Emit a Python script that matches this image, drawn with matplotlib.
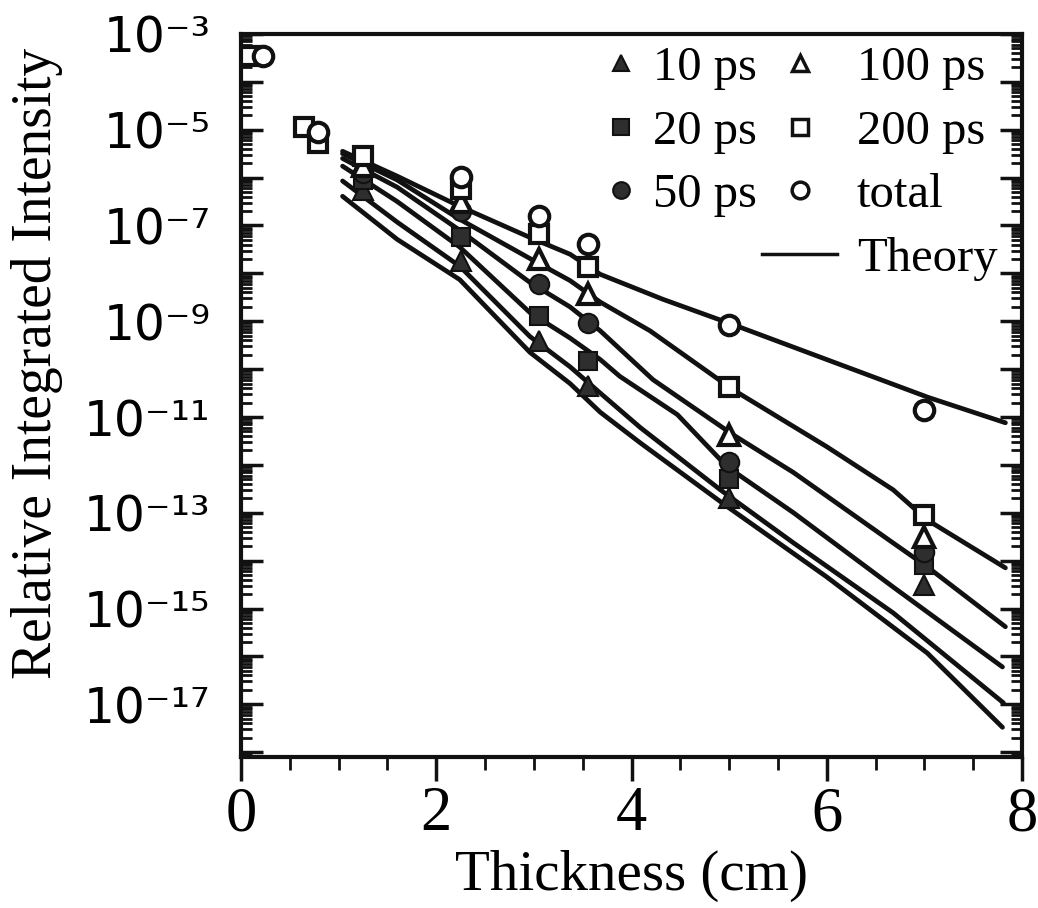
import numpy as np
import matplotlib.pyplot as plt
from matplotlib.ticker import LogLocator, FuncFormatter, NullFormatter, MultipleLocator
from matplotlib.lines import Line2D

# measured points, log10 of relative integrated intensity
x_10 = [1.25, 2.25, 3.05, 3.55, 5.0, 7.0]
y_10 = [-6.25, -7.75, -9.42, -10.36, -12.69, -14.5]
x_20 = [1.25, 2.25, 3.05, 3.55, 5.0, 7.0]
y_20 = [-6.05, -7.25, -8.9, -9.84, -12.3, -14.09]
x_50 = [1.25, 2.25, 3.05, 3.55, 5.0, 7.0]
y_50 = [-5.9, -6.7, -8.23, -9.03, -11.93, -13.82]
x_100 = [1.25, 2.25, 3.05, 3.55, 5.0, 7.0]
y_100 = [-5.75, -6.5, -7.71, -8.44, -11.37, -13.5]
x_200 = [0.09, 0.65, 0.79, 1.25, 2.25, 3.05, 3.55, 5.0, 7.0]
y_200 = [-3.45, -4.95, -5.28, -5.55, -6.24, -7.18, -7.87, -10.38, -13.04]
x_tot = [0.23, 0.79, 2.25, 3.05, 3.55, 5.0, 7.0]
y_tot = [-3.46, -5.05, -5.99, -6.81, -7.39, -9.07, -10.85]

# theory curves (log10)
tx_tot = [1.04, 1.6, 2.24, 2.96, 3.37, 3.68, 4.32, 5.04, 6.0, 7.04, 7.83]
ty_tot = [-5.45, -5.97, -6.6, -7.25, -7.6, -8.02, -8.54, -9.07, -9.8, -10.59, -11.12]
tx_200 = [1.04, 1.6, 2.24, 3.03, 3.37, 3.68, 4.19, 5.04, 6.0, 6.68, 7.03, 7.83]
ty_200 = [-5.5, -6.05, -6.87, -7.77, -8.15, -8.6, -9.2, -10.43, -11.62, -12.52, -13.15, -14.15]
tx_100 = [1.04, 1.6, 2.24, 2.96, 3.37, 3.68, 4.22, 5.04, 5.66, 6.68, 7.03, 7.83]
ty_100 = [-5.6, -6.2, -7.1, -8.19, -8.7, -9.2, -10.22, -11.37, -12.16, -13.63, -14.13, -15.38]
tx_50 = [1.04, 1.6, 2.24, 2.96, 3.37, 3.68, 3.88, 4.47, 4.98, 5.66, 6.68, 7.8]
ty_50 = [-5.76, -6.5, -7.45, -8.82, -9.35, -9.8, -10.15, -10.95, -12.04, -13.0, -14.55, -16.22]
tx_20 = [1.04, 1.6, 2.24, 2.96, 3.37, 3.68, 4.09, 4.91, 5.66, 6.68, 7.81]
ty_20 = [-6.07, -6.93, -7.85, -9.32, -9.95, -10.5, -11.22, -12.52, -13.63, -15.09, -16.97]
tx_10 = [1.04, 1.6, 2.24, 2.96, 3.37, 3.68, 4.09, 4.98, 6.0, 7.03, 7.8]
ty_10 = [-6.39, -7.29, -8.13, -9.65, -10.3, -10.9, -11.54, -12.87, -14.34, -15.93, -17.48]

ink = '#111111'
fill = '#2e2e2e'

fig = plt.figure(figsize=(10.38, 9.08), dpi=100)
ax = fig.add_axes([0.2322, 0.1663, 0.7524, 0.7963])

lw = 3.4
for tx, ty in [(tx_tot, ty_tot), (tx_200, ty_200), (tx_100, ty_100),
               (tx_50, ty_50), (tx_20, ty_20), (tx_10, ty_10)]:
    ax.plot(tx, 10.0 ** np.array(ty), color=ink, lw=lw, solid_capstyle='round',
            solid_joinstyle='round', zorder=2)

ms = 14
ax.plot(x_10, 10.0 ** np.array(y_10), '^', ms=ms + 1, mfc=fill, mec=ink, mew=1.5, ls='none', zorder=3)
ax.plot(x_20, 10.0 ** np.array(y_20), 's', ms=ms - 1, mfc=fill, mec=ink, mew=1.5, ls='none', zorder=3)
ax.plot(x_50, 10.0 ** np.array(y_50), 'o', ms=ms, mfc=fill, mec=ink, mew=1.5, ls='none', zorder=3)
ax.plot(x_100, 10.0 ** np.array(y_100), '^', ms=ms + 1, mfc='white', mec=ink, mew=3, ls='none', zorder=4)
ax.plot(x_200, 10.0 ** np.array(y_200), 's', ms=ms - 1, mfc='white', mec=ink, mew=3, ls='none', zorder=4)
ax.plot(x_tot, 10.0 ** np.array(y_tot), 'o', ms=ms, mfc='white', mec=ink, mew=3, ls='none', zorder=4)

ax.set_yscale('log')
ax.set_xlim(0, 8)
ax.set_ylim(10 ** -18.1, 1e-3)

sup = str.maketrans("-0123456789", "⁻⁰¹²³⁴⁵⁶⁷⁸⁹")


def ylab(v, pos):
    e = int(round(np.log10(v)))
    if e % 2 == 1:
        return '10' + str(e).translate(sup)
    return ''


ax.yaxis.set_major_locator(LogLocator(base=10, numticks=40))
ax.yaxis.set_minor_locator(LogLocator(base=10, subs=np.arange(2, 10), numticks=40))
ax.yaxis.set_major_formatter(FuncFormatter(ylab))
ax.yaxis.set_minor_formatter(NullFormatter())
ax.xaxis.set_major_locator(MultipleLocator(2))
ax.xaxis.set_minor_locator(MultipleLocator(0.5))

ax.tick_params(axis='y', which='both', direction='in', left=True, right=True, color=ink)
ax.tick_params(axis='y', which='major', length=16, width=2.5, pad=22)
ax.tick_params(axis='y', which='minor', length=8, width=2)
ax.tick_params(axis='x', which='both', direction='out', top=False, color=ink)
ax.tick_params(axis='x', which='major', length=17, width=2.5, pad=4)
ax.tick_params(axis='x', which='minor', length=9, width=2)

for lab in ax.get_yticklabels():
    lab.set_fontfamily('DejaVu Sans')
    lab.set_fontsize(35)
for lab in ax.get_xticklabels():
    lab.set_fontfamily('Liberation Serif')
    lab.set_fontsize(45)

for s in ax.spines.values():
    s.set_linewidth(3)
    s.set_color(ink)

ax.set_xlabel('Thickness (cm)', fontfamily='Liberation Serif', fontsize=41)
ax.xaxis.set_label_coords(0.5006, -0.128)
ax.set_ylabel('Relative Integrated Intensity', fontfamily='Liberation Serif', fontsize=40)
ax.yaxis.set_label_coords(-0.228, 0.545)

# legend, two blocks
lms = 12
lsize = 35
h1 = [Line2D([], [], marker='^', ls='none', ms=lms, mfc=fill, mec=ink, mew=1.5),
      Line2D([], [], marker='s', ls='none', ms=lms - 1, mfc=fill, mec=ink, mew=1.5),
      Line2D([], [], marker='o', ls='none', ms=lms, mfc=fill, mec=ink, mew=1.5)]
h2 = [Line2D([], [], marker='^', ls='none', ms=lms, mfc='white', mec=ink, mew=2.5),
      Line2D([], [], marker='s', ls='none', ms=lms - 1, mfc='white', mec=ink, mew=2.5),
      Line2D([], [], marker='o', ls='none', ms=lms, mfc='white', mec=ink, mew=2.5),
      Line2D([], [], color=ink, lw=2.5)]
leg1 = ax.legend(h1, ['10 ps', '20 ps', '50 ps'], loc='upper left',
                 bbox_to_anchor=(0.458, 0.983), frameon=False, borderpad=0, borderaxespad=0,
                 handlelength=0.9, handletextpad=0.22, labelspacing=0.40,
                 prop={'family': 'Liberation Serif', 'size': lsize})
ax.add_artist(leg1)
ax.legend(h2, ['100 ps', '200 ps', 'total', 'Theory'], loc='upper left',
          bbox_to_anchor=(0.667, 0.983), frameon=False, borderpad=0, borderaxespad=0,
          handlelength=1.55, handletextpad=0.4, labelspacing=0.40,
          prop={'family': 'Liberation Serif', 'size': lsize})

fig.savefig('out.png', dpi=100)
